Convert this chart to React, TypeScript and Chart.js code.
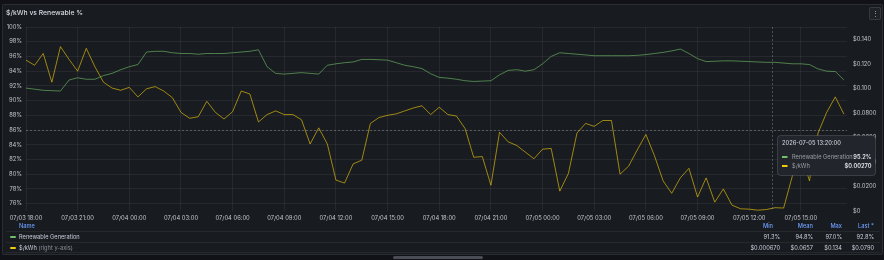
import React, { useEffect, useRef } from "react";
import { Chart, registerables } from "chart.js";
Chart.register(...registerables);

// ---- data ----
const xTickLabels = [
  "07/03 18:00", "07/03 21:00", "07/04 00:00", "07/04 03:00", "07/04 06:00", "07/04 09:00",
  "07/04 12:00", "07/04 15:00", "07/04 18:00", "07/04 21:00", "07/05 00:00", "07/05 03:00",
  "07/05 06:00", "07/05 09:00", "07/05 12:00", "07/05 15:00",
];
const xTickStepHours = 3;
const sampleStepHours = 0.5; // samples every 30 min from 07/03 18:00
const xMaxHours = 47.68;

const renewablePct = [
  91.7, 91.55, 91.4, 91.35, 91.3, 92.8, 93.1, 92.9, 92.9, 93.4,
  93.7, 94.2, 94.6, 94.9, 96.6, 96.7, 96.7, 96.5, 96.4, 96.4,
  96.3, 96.4, 96.4, 96.4, 96.5, 96.6, 96.7, 96.9, 94.6, 93.7,
  93.6, 93.7, 93.8, 93.7, 93.6, 94.8, 95.0, 95.15, 95.25, 95.6,
  95.6, 95.55, 95.5, 95.15, 94.8, 94.6, 94.35, 93.65, 93.15, 93.05,
  92.9, 92.7, 92.6, 92.65, 92.7, 93.5, 94.1, 94.2, 94.0, 94.2,
  95.0, 96.0, 96.5, 96.4, 96.3, 96.2, 96.1, 96.1, 96.1, 96.1,
  96.1, 96.15, 96.25, 96.4, 96.55, 96.75, 97.0, 96.4, 95.7, 95.3,
  95.35, 95.4, 95.4, 95.35, 95.3, 95.25, 95.2, 95.2, 95.1, 95.0,
  95.0, 94.9, 94.3, 94.0, 93.95, 92.8,
];

const pricePerKwh = [
  0.123, 0.1188, 0.1284, 0.105, 0.134, 0.1236, 0.114, 0.1326, 0.1176, 0.105,
  0.1002, 0.0984, 0.1008, 0.093, 0.0996, 0.1014, 0.0978, 0.0924, 0.0804, 0.0756,
  0.0768, 0.0894, 0.0804, 0.075, 0.081, 0.0978, 0.0954, 0.0726, 0.0786, 0.0816,
  0.0786, 0.0786, 0.0744, 0.0546, 0.0678, 0.0546, 0.0252, 0.0228, 0.0384, 0.0414,
  0.0714, 0.0762, 0.078, 0.0792, 0.0816, 0.084, 0.0858, 0.0786, 0.0846, 0.0786,
  0.0774, 0.0672, 0.0438, 0.0444, 0.021, 0.0642, 0.0564, 0.0534, 0.048, 0.0426,
  0.0504, 0.051, 0.0162, 0.0306, 0.0636, 0.0714, 0.069, 0.0738, 0.0738, 0.03,
  0.0366, 0.0498, 0.0624, 0.045, 0.0246, 0.0144, 0.027, 0.0348, 0.0114, 0.027,
  0.0072, 0.018, 0.0048, 0.0018, 0.0015, 0.00067, 0.0012, 0.0027, 0.0024, 0.0282,
  0.0474, 0.0246, 0.0636, 0.0804, 0.093, 0.079,
];

const leftTickValues = [76, 78, 80, 82, 84, 86, 88, 90, 92, 94, 96, 98, 100];
const leftMin = 75;
const leftMax = 100;
const rightTickValues = [0, 0.02, 0.04, 0.06, 0.08, 0.1, 0.12, 0.14];
const rightTickLabels = ["$0", "$0.0200", "$0.0400", "$0.0600", "$0.0800", "$0.100", "$0.120", "$0.140"];
const rightMin = 0;
const rightMax = 0.15;

const seriesNames = ["Renewable Generation", "$/kWh"];
const legendHeaders = ["Min", "Mean", "Max", "Last *"];
const renewableStats = ["91.3%", "94.8%", "97.0%", "92.8%"];
const priceStats = ["$0.000670", "$0.0657", "$0.134", "$0.0790"];

const tooltipTime = "2026-07-05 13:20:00";
const hoverHours = 43 + 20 / 60;
const cursorPct = 86;

const GREEN = "#73BF69";
const YELLOW = "#F2CC0C";
const FONT = "Inter, 'Noto Sans', sans-serif";
const SMALL = 5.7;

export default function App() {
  const ref = useRef<HTMLCanvasElement>(null);

  useEffect(() => {
    document.body.style.margin = "0";
    const canvas = ref.current!;
    const greenPts = renewablePct.map((v, i) => ({ x: i * sampleStepHours, y: v }));
    const yellowPts = pricePerKwh.map((v, i) => ({ x: i * sampleStepHours, y: v }));
    const hoverIdx = Math.round(hoverHours / sampleStepHours);

    const overlay = {
      id: "overlay",
      afterDatasetsDraw(chart: any) {
        const { ctx, chartArea, scales } = chart;
        const x = Math.round(scales.x.getPixelForValue(hoverHours)) + 0.5;
        const y = Math.round(scales.yL.getPixelForValue(cursorPct)) + 0.5;
        ctx.save();
        ctx.setLineDash([2, 2]);
        ctx.strokeStyle = "rgba(204,204,220,0.3)";
        ctx.lineWidth = 1;
        ctx.beginPath();
        ctx.moveTo(x, chartArea.top);
        ctx.lineTo(x, chartArea.bottom);
        ctx.moveTo(chartArea.left, y);
        ctx.lineTo(chartArea.right, y);
        ctx.stroke();
        ctx.restore();
      },
      afterDraw(chart: any) {
        const { ctx, scales } = chart;
        const cx = scales.x.getPixelForValue(hoverHours);
        const cy = scales.yL.getPixelForValue(cursorPct);
        const bx = Math.round(cx + 5) + 0.5;
        const by = Math.round(cy + 5) + 0.5;
        const w = 98;
        const h = 40;
        ctx.save();
        ctx.fillStyle = "#22252b";
        ctx.strokeStyle = "rgba(204,204,220,0.18)";
        ctx.lineWidth = 1;
        ctx.beginPath();
        ctx.roundRect(bx, by, w, h, 3);
        ctx.fill();
        ctx.stroke();
        ctx.textBaseline = "middle";
        ctx.font = `500 ${SMALL}px ${FONT}`;
        ctx.fillStyle = "#ccccdc";
        ctx.textAlign = "left";
        ctx.fillText(tooltipTime, bx + 4.5, by + 7.5);
        const rows = [
          { color: GREEN, name: seriesNames[0], val: `${renewablePct[hoverIdx].toFixed(1)}%`, dy: 21.5 },
          { color: YELLOW, name: seriesNames[1], val: `$${pricePerKwh[hoverIdx].toPrecision(3)}`, dy: 30.5 },
        ];
        for (const r of rows) {
          ctx.fillStyle = r.color;
          ctx.fillRect(bx + 4.5, by + r.dy - 1, 5.5, 2);
          ctx.font = `400 ${SMALL}px ${FONT}`;
          ctx.fillStyle = "#9d9ea8";
          ctx.textAlign = "left";
          ctx.fillText(r.name, bx + 14.5, by + r.dy);
          ctx.font = `600 ${SMALL}px ${FONT}`;
          ctx.fillStyle = "#e6e6ee";
          ctx.textAlign = "right";
          ctx.fillText(r.val, bx + w - 4, by + r.dy);
        }
        ctx.restore();
      },
    };

    const gridColor = "rgba(204,204,220,0.08)";
    const tickColor = "#c4c5cf";
    const tickFont = { family: FONT, size: 5.8 };

    const chart = new Chart(canvas, {
      type: "line",
      data: {
        datasets: [
          {
            label: seriesNames[0],
            data: greenPts,
            yAxisID: "yL",
            borderColor: "rgba(115,191,105,0.62)",
            borderWidth: 1,
            pointRadius: 0,
            tension: 0,
          },
          {
            label: seriesNames[1],
            data: yellowPts,
            yAxisID: "yR",
            borderColor: "rgba(242,204,12,0.62)",
            borderWidth: 1,
            pointRadius: 0,
            tension: 0,
          },
        ],
      },
      options: {
        animation: false,
        responsive: false,
        devicePixelRatio: 1,
        layout: { padding: { top: 27, left: 0, right: 0, bottom: 0 } },
        plugins: { legend: { display: false }, tooltip: { enabled: false } },
        scales: {
          x: {
            type: "linear",
            min: 0,
            max: xMaxHours,
            afterBuildTicks: (s: any) => {
              s.ticks = xTickLabels.map((_, i) => ({ value: i * xTickStepHours }));
            },
            afterFit: (s: any) => {
              s.height = 15;
            },
            ticks: {
              autoSkip: false,
              maxRotation: 0,
              padding: 4,
              color: tickColor,
              font: tickFont,
              callback: (_v: any, i: number) => xTickLabels[i],
            },
            grid: { color: gridColor, drawTicks: false },
            border: { display: false },
          },
          yL: {
            type: "linear",
            position: "left",
            min: leftMin,
            max: leftMax,
            afterBuildTicks: (s: any) => {
              s.ticks = leftTickValues.map((v) => ({ value: v }));
            },
            afterFit: (s: any) => {
              s.width = 26;
            },
            ticks: {
              padding: 4,
              color: tickColor,
              font: tickFont,
              callback: (v: any) => `${v}%`,
            },
            grid: { color: gridColor, drawTicks: false },
            border: { display: false },
          },
          yR: {
            type: "linear",
            position: "right",
            min: rightMin,
            max: rightMax,
            afterBuildTicks: (s: any) => {
              s.ticks = rightTickValues.map((v) => ({ value: v }));
            },
            afterFit: (s: any) => {
              s.width = 37;
            },
            ticks: {
              padding: 6,
              color: tickColor,
              font: tickFont,
              callback: (_v: any, i: number) => rightTickLabels[i],
            },
            grid: { display: false, drawTicks: false },
            border: { display: false },
          },
        },
      },
      plugins: [overlay],
    });
    return () => chart.destroy();
  }, []);

  const txt: React.CSSProperties = {
    position: "absolute",
    fontFamily: FONT,
    fontSize: SMALL,
    lineHeight: "8px",
    whiteSpace: "nowrap",
    color: "#ccccdc",
  };
  const headerRight = [773, 813, 842, 874];
  const valueRight = [780, 813, 842, 874];
  const rowsY = [233, 243.7];

  return (
    <div style={{ position: "relative", width: 884, height: 260, background: "#111217", overflow: "hidden" }}>
      <div
        style={{
          position: "absolute",
          left: 2,
          top: 4,
          width: 879,
          height: 249,
          background: "#181b1f",
          border: "1px solid rgba(204,204,220,0.1)",
          borderRadius: 2,
        }}
      />
      <canvas
        ref={ref}
        width={884}
        height={226}
        style={{ position: "absolute", left: 0, top: 0, width: 884, height: 226, display: "block" }}
      />
      <div style={{ ...txt, left: 6, top: 9, fontSize: 6.8, fontWeight: 500, color: "#d8d9e3" }}>$/kWh vs Renewable %</div>
      <div
        style={{
          position: "absolute",
          left: 869,
          top: 7,
          width: 10,
          height: 11,
          background: "#1f2227",
          border: "1px solid rgba(204,204,220,0.15)",
          borderRadius: 2,
          color: "#b0b1bb",
          fontSize: 7,
          lineHeight: "11px",
          textAlign: "center",
          fontFamily: FONT,
        }}
      >
        ⋮
      </div>
      {/* legend table */}
      <div style={{ ...txt, left: 19, top: 222, color: "#6e9fff", fontWeight: 500 }}>Name</div>
      {legendHeaders.map((h, i) => (
        <div key={h} style={{ ...txt, right: 884 - headerRight[i], top: 222, color: "#6e9fff", fontWeight: 500 }}>
          {h}
        </div>
      ))}
      <div style={{ position: "absolute", left: 6, width: 874, top: 231, height: 1, background: "rgba(204,204,220,0.08)" }} />
      <div style={{ position: "absolute", left: 6, width: 874, top: 242, height: 1, background: "rgba(204,204,220,0.08)" }} />
      <div style={{ position: "absolute", left: 6, width: 874, top: 252, height: 1, background: "rgba(204,204,220,0.08)" }} />
      <div style={{ position: "absolute", left: 10, width: 6, top: rowsY[0] + 3, height: 2, background: GREEN, borderRadius: 1 }} />
      <div style={{ ...txt, left: 19, top: rowsY[0] }}>{seriesNames[0]}</div>
      <div style={{ position: "absolute", left: 10, width: 6, top: rowsY[1] + 3, height: 2, background: YELLOW, borderRadius: 1 }} />
      <div style={{ ...txt, left: 19, top: rowsY[1] }}>
        {seriesNames[1]} <span style={{ color: "#8e8f99" }}>(right y-axis)</span>
      </div>
      {renewableStats.map((s, i) => (
        <div key={"r" + i} style={{ ...txt, right: 884 - valueRight[i], top: rowsY[0] }}>
          {s}
        </div>
      ))}
      {priceStats.map((s, i) => (
        <div key={"p" + i} style={{ ...txt, right: 884 - valueRight[i], top: rowsY[1] }}>
          {s}
        </div>
      ))}
      <div style={{ position: "absolute", left: 393, top: 256, width: 90, height: 2.5, background: "#4a4c55", borderRadius: 2 }} />
    </div>
  );
}
